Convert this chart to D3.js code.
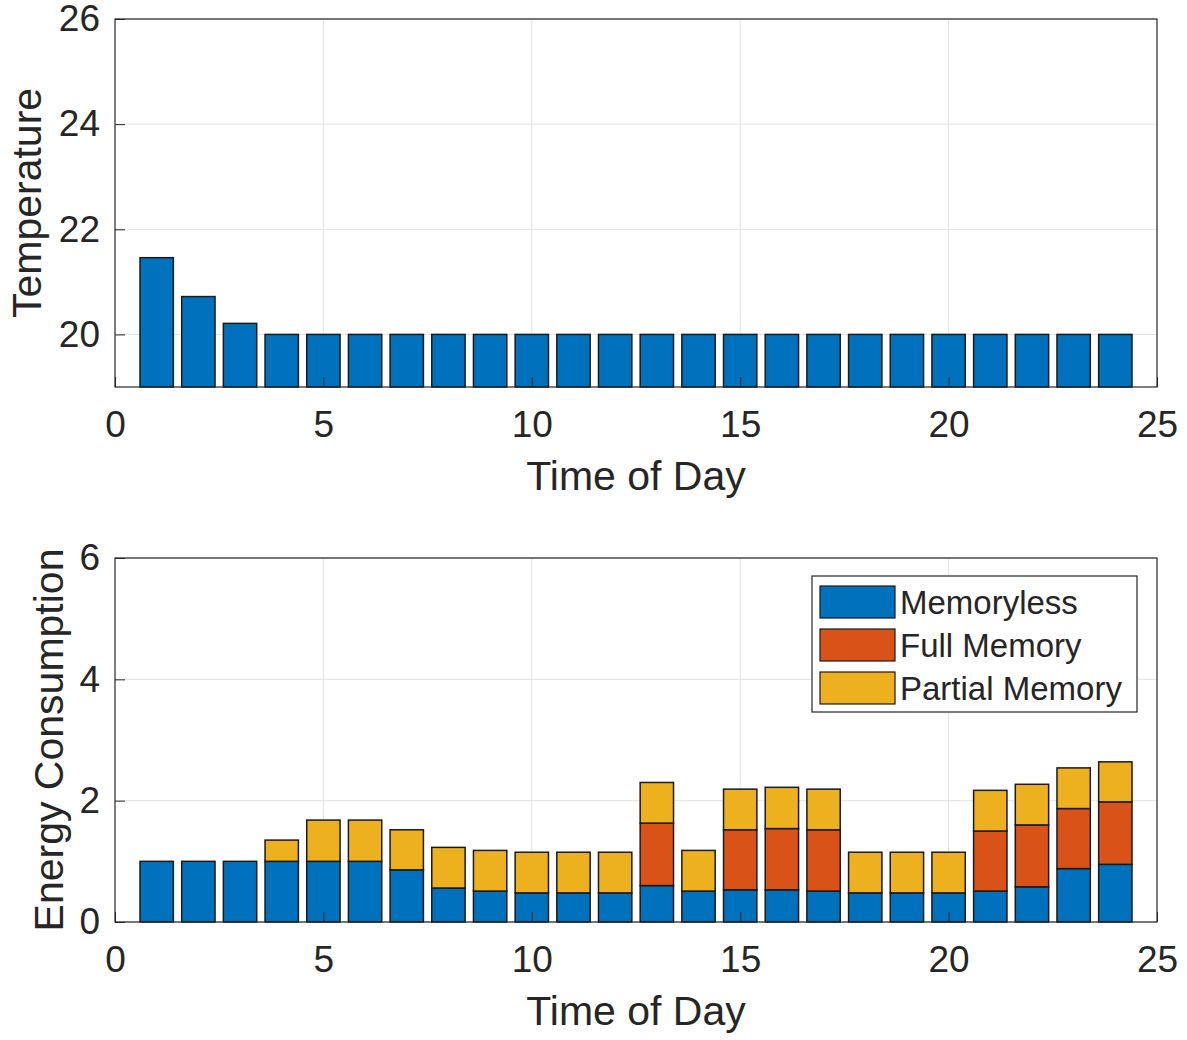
<!DOCTYPE html>
<html>
<head>
<meta charset="utf-8">
<script src="https://cdn.jsdelivr.net/npm/d3@7"></script>
<style>
  body { margin: 0; background: #fff; }
  svg text { font-family: "Liberation Sans", Arial, sans-serif; fill: #262626; }
</style>
</head>
<body>
<div id="chart"></div>
<script>
// hours 1..24
var hours = d3.range(1, 25);
var temperature = [21.46, 20.72, 20.21, 20, 20, 20, 20, 20, 20, 20, 20, 20,
                   20, 20, 20, 20, 20, 20, 20, 20, 20, 20, 20, 20];
var memoryless = [1, 1, 1, 1, 1, 1, 0.86, 0.56, 0.51, 0.48, 0.48, 0.48,
                  0.60, 0.51, 0.53, 0.53, 0.51, 0.48, 0.48, 0.48, 0.51, 0.58, 0.88, 0.95];
var fullMemory = [0, 0, 0, 0, 0, 0, 0, 0, 0, 0, 0, 0,
                  1.03, 0, 0.99, 1.01, 1.01, 0, 0, 0, 0.99, 1.02, 0.99, 1.03];
var partialMemory = [0, 0, 0, 0.35, 0.68, 0.68, 0.66, 0.67, 0.67, 0.67, 0.67, 0.67,
                     0.67, 0.67, 0.67, 0.68, 0.67, 0.67, 0.67, 0.67, 0.67, 0.67, 0.67, 0.66];
var seriesNames = ["Memoryless", "Full Memory", "Partial Memory"];
var seriesColors = ["#0072BD", "#D95319", "#EDB120"];
var xTicks = [0, 5, 10, 15, 20, 25];
var tempTicks = [20, 22, 24, 26];
var energyTicks = [0, 2, 4, 6];

var W = 1187, H = 1040;
var svg = d3.select("#chart").append("svg")
    .attr("width", W)
    .attr("height", H);

var axColor = "#262626", gridColor = "#e3e3e3";
var tickFont = "37px", labelFont = "41px", legendFont = "33px";

function drawGrid(g, x, y, yTicks) {
    var w = x.range()[1] - x.range()[0];
    var h = y.range()[0] - y.range()[1];
    g.append("g").selectAll("line")
        .data(xTicks.slice(1, -1))
        .enter().append("line")
        .attr("x1", function (d) { return x(d); })
        .attr("x2", function (d) { return x(d); })
        .attr("y1", 0).attr("y2", h)
        .style("stroke", gridColor).style("stroke-width", 1);
    g.append("g").selectAll("line")
        .data(yTicks)
        .enter().append("line")
        .attr("x1", 0).attr("x2", w)
        .attr("y1", function (d) { return y(d); })
        .attr("y2", function (d) { return y(d); })
        .style("stroke", gridColor).style("stroke-width", 1);
}

function drawFrame(g, x, y, yTicks, xLabel, yLabel, yLabelX) {
    var w = x.range()[1] - x.range()[0];
    var h = y.range()[0] - y.range()[1];
    g.append("rect")
        .attr("x", 0).attr("y", 0)
        .attr("width", w).attr("height", h)
        .style("fill", "none").style("stroke", axColor).style("stroke-width", 1.2);

    var xAxis = d3.axisBottom(x).tickValues(xTicks).tickFormat(d3.format("d"))
        .tickSizeInner(-10).tickSizeOuter(0).tickPadding(24);
    var gx = g.append("g").attr("transform", "translate(0," + h + ")").call(xAxis);
    gx.select(".domain").remove();
    gx.selectAll("line").style("stroke", axColor);
    gx.selectAll("text").style("font-size", tickFont).style("fill", axColor)
        .attr("font-family", "Liberation Sans, Arial, sans-serif");

    var yAxis = d3.axisLeft(y).tickValues(yTicks).tickFormat(d3.format("d"))
        .tickSizeInner(-10).tickSizeOuter(0).tickPadding(15);
    var gy = g.append("g").call(yAxis);
    gy.select(".domain").remove();
    gy.selectAll("line").style("stroke", axColor);
    gy.selectAll("text").style("font-size", tickFont).style("fill", axColor)
        .attr("font-family", "Liberation Sans, Arial, sans-serif");

    g.append("text")
        .attr("x", w / 2).attr("y", h + 103)
        .attr("text-anchor", "middle")
        .style("font-size", labelFont)
        .text(xLabel);

    g.append("text")
        .attr("transform", "translate(" + yLabelX + "," + (h / 2) + ") rotate(-90)")
        .attr("text-anchor", "middle")
        .style("font-size", labelFont)
        .text(yLabel);
}

var left = 115, right = 1157;
var barW = 0.8;

// ---- top: temperature ----
var top1 = 19, bottom1 = 387;
var g1 = svg.append("g").attr("transform", "translate(" + left + "," + top1 + ")");
var x1 = d3.scaleLinear().domain([0, 25]).range([0, right - left]);
var y1 = d3.scaleLinear().domain([19, 26]).range([bottom1 - top1, 0]);
drawGrid(g1, x1, y1, tempTicks);

g1.selectAll("rect.temp")
    .data(hours)
    .enter().append("rect")
    .classed("temp", true)
    .attr("x", function (d) { return x1(d - barW / 2); })
    .attr("width", x1(barW) - x1(0))
    .attr("y", function (d, i) { return y1(temperature[i]); })
    .attr("height", function (d, i) { return y1(19) - y1(temperature[i]); })
    .style("fill", seriesColors[0])
    .style("stroke", "#1a1a1a").style("stroke-width", 1.5);

drawFrame(g1, x1, y1, tempTicks, "Time of Day", "Temperature", -74);

// ---- bottom: energy consumption ----
var top2 = 558, bottom2 = 922;
var g2 = svg.append("g").attr("transform", "translate(" + left + "," + top2 + ")");
var x2 = d3.scaleLinear().domain([0, 25]).range([0, right - left]);
var y2 = d3.scaleLinear().domain([0, 6]).range([bottom2 - top2, 0]);
drawGrid(g2, x2, y2, energyTicks);

var table = hours.map(function (h, i) {
    return { hour: h, Memoryless: memoryless[i], "Full Memory": fullMemory[i], "Partial Memory": partialMemory[i] };
});
var stacked = d3.stack().keys(seriesNames)(table);

stacked.forEach(function (layer, k) {
    g2.append("g").selectAll("rect")
        .data(layer.filter(function (d) { return d[1] - d[0] > 0; }))
        .enter().append("rect")
        .attr("x", function (d) { return x2(d.data.hour - barW / 2); })
        .attr("width", x2(barW) - x2(0))
        .attr("y", function (d) { return y2(d[1]); })
        .attr("height", function (d) { return y2(d[0]) - y2(d[1]); })
        .style("fill", seriesColors[k])
        .style("stroke", "#1a1a1a").style("stroke-width", 1.5);
});

drawFrame(g2, x2, y2, energyTicks, "Time of Day", "Energy Consumption", -52);

// legend
var lg = svg.append("g").attr("transform", "translate(812,576)");
lg.append("rect")
    .attr("width", 325).attr("height", 136)
    .style("fill", "#fff").style("stroke", axColor).style("stroke-width", 1.2);
seriesNames.forEach(function (name, i) {
    var row = lg.append("g").attr("transform", "translate(0," + (10 + i * 43) + ")");
    row.append("rect")
        .attr("x", 8).attr("y", 0)
        .attr("width", 75).attr("height", 32)
        .style("fill", seriesColors[i])
        .style("stroke", "#1a1a1a").style("stroke-width", 1.2);
    row.append("text")
        .attr("x", 88).attr("y", 28)
        .style("font-size", legendFont)
        .text(name);
});
</script>
</body>
</html>
